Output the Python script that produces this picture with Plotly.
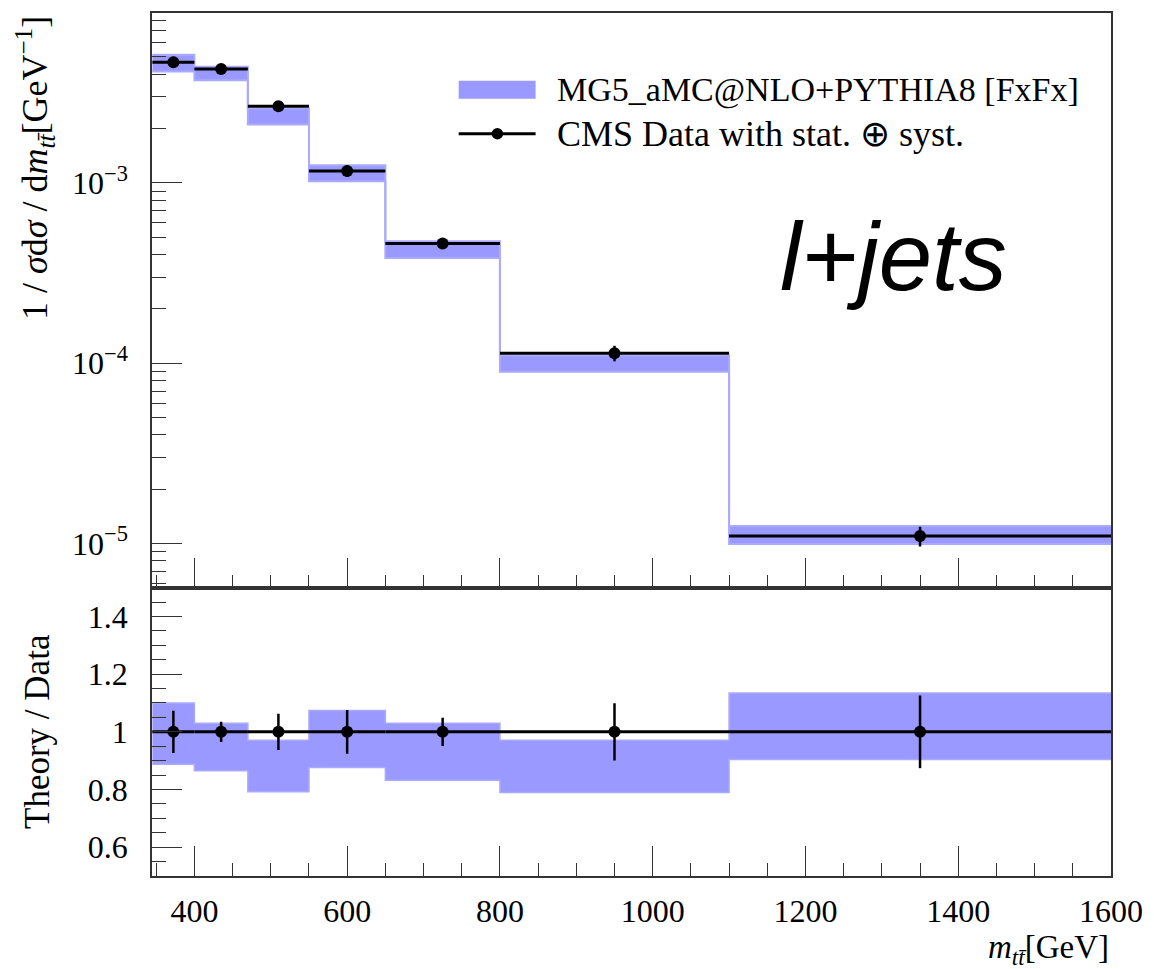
import plotly.graph_objects as go

# ---------------- data ----------------
bin_edges = [345, 400, 470, 550, 650, 800, 1100, 1600]
data_xsec = [4.67e-3, 4.28e-3, 2.66e-3, 1.165e-3, 4.61e-4, 1.136e-4, 1.10e-5]
data_rel_err = [0.073, 0.035, 0.063, 0.076, 0.049, 0.099, 0.126]
ratio_hi = [1.100, 1.030, 0.971, 1.074, 1.030, 0.971, 1.135]
ratio_lo = [0.888, 0.865, 0.792, 0.876, 0.832, 0.790, 0.904]

x_tickvals = [400, 600, 800, 1000, 1200, 1400, 1600]
y_tickvals = [1e-5, 1e-4, 1e-3]
y_ticktext = ["10<sup>−5</sup>", "10<sup>−4</sup>", "10<sup>−3</sup>"]
r_tickvals = [0.6, 0.8, 1.0, 1.2, 1.4]
r_ticktext = ["0.6", "0.8", "1", "1.2", "1.4"]

# ---------------- derived ----------------
centers = [(a + b) / 2 for a, b in zip(bin_edges[:-1], bin_edges[1:])]
theo_hi = [d * r for d, r in zip(data_xsec, ratio_hi)]
theo_lo = [d * r for d, r in zip(data_xsec, ratio_lo)]
data_err = [d * e for d, e in zip(data_xsec, data_rel_err)]
ones = [1.0 for _ in data_xsec]


def step(vals):
    return list(vals) + [vals[-1]]


def segments(vals):
    xs, ys = [], []
    for a, b, v in zip(bin_edges[:-1], bin_edges[1:], vals):
        xs += [a, b, None]
        ys += [v, v, None]
    return xs, ys


W, H = 1154, 969
ML, MR, MT, MB = 152, 42, 11, 93
PW, PH = W - ML - MR, H - MT - MB
split = (876 - 587) / PH


def px(xp):
    return (xp - ML) / PW


def py(yp):
    return 1 - (yp - MT) / PH


BAND = "rgb(153,153,255)"
BANDLINE = "rgb(170,170,255)"
SERIF = "Liberation Serif"
AX = "#333333"
TICKFONT = dict(family=SERIF, size=32, color="black")

fig = go.Figure()

# ---- top panel band
fig.add_trace(go.Scatter(x=bin_edges, y=step(theo_lo), mode="lines", line_shape="hv",
                         line=dict(color=BANDLINE, width=2), xaxis="x", yaxis="y",
                         showlegend=False, hoverinfo="skip"))
fig.add_trace(go.Scatter(x=bin_edges, y=step(theo_hi), mode="lines", line_shape="hv",
                         line=dict(color=BANDLINE, width=2), fill="tonexty", fillcolor=BAND,
                         xaxis="x", yaxis="y", showlegend=False,
                         name="MG5_aMC@NLO+PYTHIA8 [FxFx]"))
# ---- top panel data
sx, sy = segments(data_xsec)
fig.add_trace(go.Scatter(x=sx, y=sy, mode="lines", line=dict(color="black", width=3),
                         xaxis="x", yaxis="y", showlegend=False, hoverinfo="skip"))
fig.add_trace(go.Scatter(x=centers, y=data_xsec, mode="markers",
                         marker=dict(color="black", size=12),
                         error_y=dict(type="data", array=data_err, color="black",
                                      thickness=2.5, width=0),
                         xaxis="x", yaxis="y", showlegend=False,
                         name="CMS Data with stat. ⊕ syst."))

# ---- ratio panel band
fig.add_trace(go.Scatter(x=bin_edges, y=step(ratio_lo), mode="lines", line_shape="hv",
                         line=dict(color=BANDLINE, width=1.5), xaxis="x2", yaxis="y2",
                         showlegend=False, hoverinfo="skip"))
fig.add_trace(go.Scatter(x=bin_edges, y=step(ratio_hi), mode="lines", line_shape="hv",
                         line=dict(color=BANDLINE, width=1.5), fill="tonexty", fillcolor=BAND,
                         xaxis="x2", yaxis="y2", showlegend=False))
rx, ry = segments(ones)
fig.add_trace(go.Scatter(x=rx, y=ry, mode="lines", line=dict(color="black", width=3),
                         xaxis="x2", yaxis="y2", showlegend=False, hoverinfo="skip"))
fig.add_trace(go.Scatter(x=centers, y=ones, mode="markers",
                         marker=dict(color="black", size=12),
                         error_y=dict(type="data", array=data_rel_err, color="black",
                                      thickness=2.5, width=0),
                         xaxis="x2", yaxis="y2", showlegend=False))

xr = [344.5, 1600]
common_x = dict(range=xr, showline=True, linecolor=AX, linewidth=1.5, mirror=True,
                ticks="inside", ticklen=30, tickwidth=1.2, tickcolor=AX,
                tickmode="array", tickvals=x_tickvals,
                minor=dict(ticks="inside", ticklen=13, tickwidth=1.2, tickcolor=AX,
                           dtick=50, tick0=0),
                showgrid=False, zeroline=False)

minor_log = [k * 10.0 ** e for e in (-6, -5, -4, -3) for k in range(2, 10)]

fig.update_layout(
    width=W, height=H,
    margin=dict(l=ML, r=MR, t=MT, b=MB),
    paper_bgcolor="white", plot_bgcolor="white",
    font=dict(family=SERIF, color="black", size=32),
    showlegend=False,
    xaxis=dict(**common_x, anchor="y", showticklabels=False),
    xaxis2=dict(**common_x, anchor="y2", matches="x", showticklabels=True,
                ticktext=[str(v) for v in x_tickvals], ticklabelstandoff=6,
                tickfont=TICKFONT),
    yaxis=dict(type="log", domain=[split, 1], range=[-5.245, -2.058],
               showline=True, linecolor=AX, linewidth=1.5, mirror=True,
               ticks="inside", ticklen=30, tickwidth=1.2, tickcolor=AX,
               tickmode="array", tickvals=y_tickvals, ticktext=y_ticktext,
               ticklabelstandoff=16,
               minor=dict(ticks="inside", ticklen=14, tickwidth=1.2, tickcolor=AX,
                          tickvals=minor_log),
               showgrid=False, zeroline=False, anchor="x",
               tickfont=TICKFONT),
    yaxis2=dict(domain=[0, split], range=[0.5, 1.5],
                showline=True, linecolor=AX, linewidth=1.5, mirror=True,
                ticks="inside", ticklen=30, tickwidth=1.2, tickcolor=AX,
                tickmode="array", tickvals=r_tickvals, ticktext=r_ticktext,
                ticklabelstandoff=16,
                minor=dict(ticks="inside", ticklen=14, tickwidth=1.2, tickcolor=AX,
                           dtick=0.05, tick0=0),
                showgrid=False, zeroline=False, anchor="x2",
                tickfont=TICKFONT),
)

# ---- legend (drawn in paper coordinates)
fig.add_shape(type="rect", xref="paper", yref="paper",
              x0=px(459), x1=px(536), y0=py(97), y1=py(79),
              fillcolor=BAND, line=dict(width=0))
fig.add_shape(type="line", xref="paper", yref="paper",
              x0=px(459), x1=px(536), y0=py(132), y1=py(132),
              line=dict(color="black", width=3))
fig.add_shape(type="circle", xref="paper", yref="paper",
              x0=px(492), x1=px(503.5), y0=py(137.7), y1=py(126.3),
              fillcolor="black", line=dict(width=0))
fig.add_annotation(text="MG5_aMC@NLO+PYTHIA8 [FxFx]", xref="paper", yref="paper",
                   x=px(555), y=py(88), xanchor="left", yanchor="middle", showarrow=False,
                   font=dict(family=SERIF, size=34, color="black"))
fig.add_annotation(text="CMS Data with stat. ⊕ syst.", xref="paper", yref="paper",
                   x=px(555), y=py(132), xanchor="left", yanchor="middle", showarrow=False,
                   font=dict(family=SERIF, size=36, color="black"))

# ---- l+jets label
fig.add_annotation(text="l+jets", xref="paper", yref="paper",
                   x=px(894), y=py(255), xanchor="center", yanchor="middle", showarrow=False,
                   font=dict(family="Liberation Sans", size=96, color="black", style="italic"))

# ---- axis titles
fig.add_annotation(text="1 / <i>σ</i>d<i>σ</i> / d<i>m</i><sub><i>tt̄</i></sub>[GeV<sup>−1</sup>]",
                   xref="paper", yref="paper", x=px(35), y=py(12),
                   xanchor="center", yanchor="top", textangle=-90, showarrow=False,
                   font=dict(family=SERIF, size=36, color="black"))
fig.add_annotation(text="Theory / Data", xref="paper", yref="paper",
                   x=px(38), y=split / 2, xanchor="center", yanchor="middle",
                   textangle=-90, showarrow=False,
                   font=dict(family=SERIF, size=35, color="black"))
fig.add_annotation(text="<i>m</i><sub><i>tt̄</i></sub>[GeV]", xref="paper", yref="paper",
                   x=1, y=py(950), xanchor="right", yanchor="middle", showarrow=False,
                   font=dict(family=SERIF, size=33, color="black"))

fig.write_html("out.html")
